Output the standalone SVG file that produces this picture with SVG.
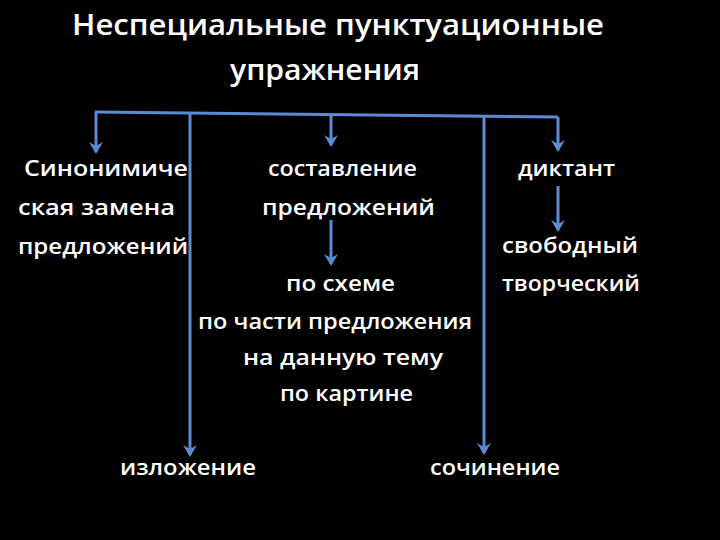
<svg xmlns="http://www.w3.org/2000/svg" width="720" height="540" viewBox="0 0 720 540">
<style>
text{font-family:"Open Sans","Liberation Sans",sans-serif;fill:#fff;font-weight:600;font-size:22px}
.t{font-size:28px;font-weight:600}
.c{stroke:#5b8bd0;stroke-width:3;fill:none}
</style>
<defs>
<marker id="h" markerWidth="14" markerHeight="14" refX="7" refY="12" orient="0" markerUnits="userSpaceOnUse" viewBox="0 0 14 14">
<path d="M0,2 L7,14 L14,2 L7,6 Z" fill="#5b8bd0"/>
</marker>
</defs>
<rect width="720" height="540" fill="#000"/>
<g id="title">
<text class="t" x="72" y="35" textLength="532" lengthAdjust="spacingAndGlyphs">Неспециальные  пунктуационные</text>
<text class="t" x="325" y="80" text-anchor="middle" textLength="190" lengthAdjust="spacingAndGlyphs">упражнения</text>
</g>
<g id="connectors">
<path class="c" d="M95,112 L558,117"/>
<path class="c" d="M96,112 L96,152" marker-end="url(#h)"/>
<path class="c" d="M190,113 L190,455" marker-end="url(#h)"/>
<path class="c" d="M331,115 L331,145" marker-end="url(#h)"/>
<path class="c" d="M484,116 L484,453" marker-end="url(#h)"/>
<path class="c" d="M558,117 L558,150" marker-end="url(#h)"/>
<path class="c" d="M331,220 L331,264" marker-end="url(#h)"/>
<path class="c" d="M558,186 L558,230" marker-end="url(#h)"/>
</g>
<g id="n1">
<text x="24" y="176" textLength="164" lengthAdjust="spacingAndGlyphs">Синонимиче</text>
<text x="18" y="215" textLength="157" lengthAdjust="spacingAndGlyphs">ская  замена</text>
<text x="18" y="254" textLength="170" lengthAdjust="spacingAndGlyphs">предложений</text>
</g>
<g id="n2">
<text x="268" y="176" textLength="149" lengthAdjust="spacingAndGlyphs">составление</text>
<text x="262" y="215" textLength="173" lengthAdjust="spacingAndGlyphs">предложений</text>
</g>
<g id="n3">
<text x="286" y="291" textLength="109" lengthAdjust="spacingAndGlyphs">по схеме</text>
<text x="198" y="329" textLength="274" lengthAdjust="spacingAndGlyphs">по части предложения</text>
<text x="243" y="365" textLength="200" lengthAdjust="spacingAndGlyphs">на данную тему</text>
<text x="280" y="401" textLength="133" lengthAdjust="spacingAndGlyphs">по картине</text>
</g>
<g id="n4">
<text x="518" y="176" textLength="97" lengthAdjust="spacingAndGlyphs">диктант</text>
</g>
<g id="n5">
<text x="502" y="253" textLength="136" lengthAdjust="spacingAndGlyphs">свободный</text>
<text x="502" y="291" textLength="138" lengthAdjust="spacingAndGlyphs">творческий</text>
</g>
<g id="n6">
<text x="120" y="475" textLength="136" lengthAdjust="spacingAndGlyphs">изложение</text>
</g>
<g id="n7">
<text x="430" y="475" textLength="130" lengthAdjust="spacingAndGlyphs">сочинение</text>
</g>
</svg>
